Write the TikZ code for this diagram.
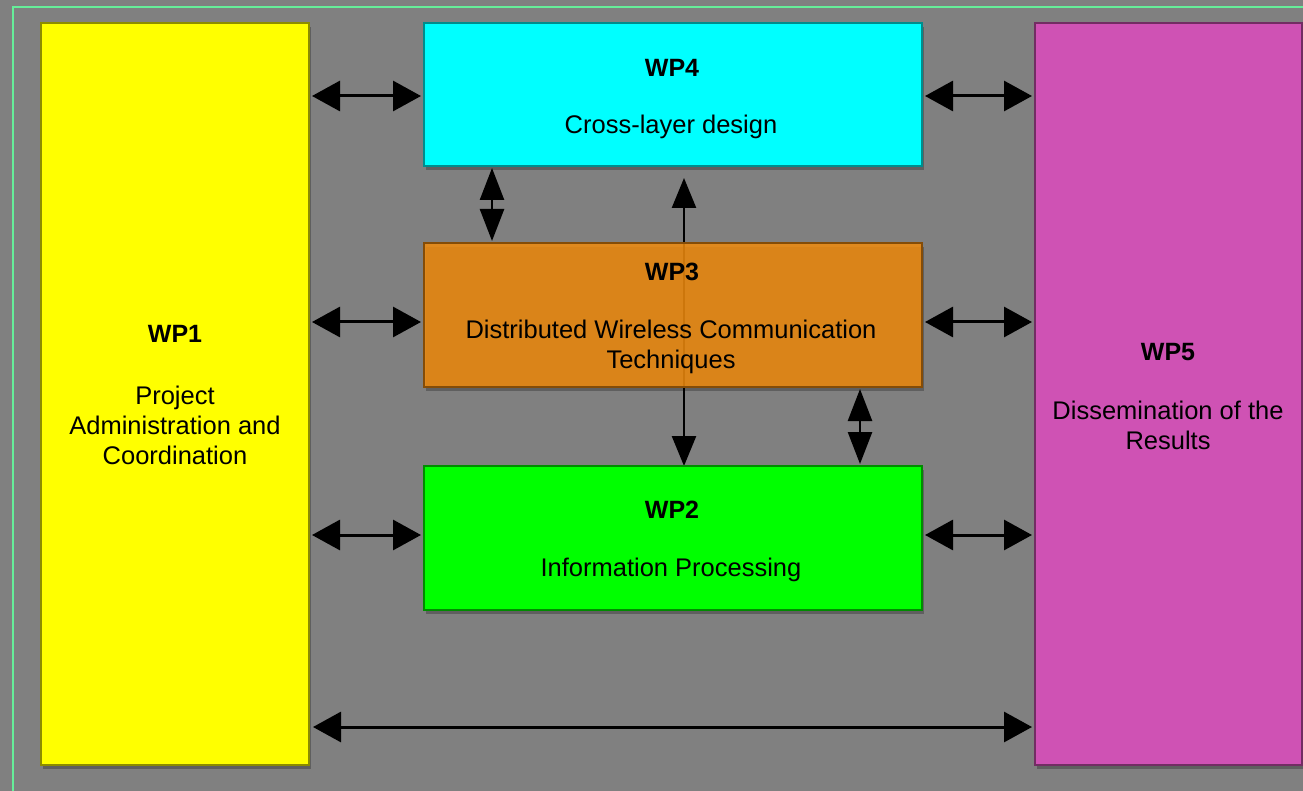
\documentclass[tikz,border=0pt]{standalone}
\usepackage{fontspec}
\setmainfont{Liberation Sans}
\usetikzlibrary{arrows.meta,shadows}
\definecolor{bggray}{HTML}{808080}
\definecolor{frameline}{HTML}{66EE99}
\definecolor{wpyellow}{HTML}{FFFF00}
\definecolor{wpcyan}{HTML}{00FFFF}
\definecolor{wporange}{HTML}{F08B0D}
\definecolor{wpgreen}{HTML}{00FF00}
\definecolor{wpmagenta}{HTML}{CF52B4}
\tikzset{
  wpbox/.style={draw=#1!55!black, fill=#1, line width=1.5pt, inner sep=0pt, outer sep=0pt, anchor=north west,
    drop shadow={shadow xshift=2pt, shadow yshift=-4pt, fill=black, opacity=0.25}},
  wptext/.style={font=\fontsize{25.5}{30}\selectfont, align=center, text=black},
  wptitle/.style={font=\fontsize{25}{30}\selectfont\bfseries, text=black},
  harr/.style={line width=3pt, {Triangle[length=28pt,width=30pt]}-{Triangle[length=28pt,width=30pt]}, shorten <=3pt, shorten >=3pt},
  varr/.style={line width=2.5pt, {Triangle[length=32pt,width=24pt]}-{Triangle[length=32pt,width=24pt]}, shorten <=2pt, shorten >=2pt},
}
\begin{document}
\begin{tikzpicture}[x=1pt,y=-1pt]
\fill[bggray] (0,0) rectangle (1303,791);
\useasboundingbox (0,0) rectangle (1303,791);
\draw[frameline, line width=2pt] (13,791) -- (13,7) -- (1303,7);

% line WP2 <-> WP4 behind WP3
\coordinate (vtop) at (684,178);
\coordinate (vbot) at (684,466);
\draw[line width=2.5pt, {Triangle[length=30pt,width=24pt]}-{Triangle[length=30pt,width=24pt]}] (vtop) -- (vbot);

\node[wpbox=wpyellow, minimum width=268pt, minimum height=742pt] (wp1) at (41,23) {};
\node[wpbox=wpcyan, minimum width=498pt, minimum height=143pt] (wp4) at (424,23) {};
\node[wpbox=wporange, fill opacity=0.85, minimum width=498pt, minimum height=144pt] (wp3) at (424,243) {};
\node[wpbox=wpgreen, minimum width=498pt, minimum height=144pt] (wp2) at (424,466) {};
\node[wpbox=wpmagenta, minimum width=267pt, minimum height=742pt] (wp5) at (1035,23) {};

% texts
\node[wptitle] (t1) at (175,334) {WP1};
\node[wptext] (d1) at (175,425) {Project\\Administration and\\Coordination};
\node[wptitle] (t4) at (672,68) {WP4};
\node[wptext] (d4) at (671,127) {Cross-layer design};
\node[wptitle] (t3) at (672,272) {WP3};
\node[wptext] (d3) at (671,347) {Distributed Wireless Communication\\Techniques};
\node[wptitle] (t2) at (672,510) {WP2};
\node[wptext] (d2) at (671,570) {Information Processing};
\node[wptitle] (t5) at (1168,352) {WP5};
\node[wptext] (d5) at (1168,425) {Dissemination of the\\Results};

% horizontal arrows
\draw[harr] (wp1.east |- 0,96) -- (wp4.west |- 0,96);
\draw[harr] (wp4.east |- 0,96) -- (wp5.west |- 0,96);
\draw[harr] (wp1.east |- 0,322) -- (wp3.west |- 0,322);
\draw[harr] (wp3.east |- 0,322) -- (wp5.west |- 0,322);
\draw[harr] (wp1.east |- 0,535) -- (wp2.west |- 0,535);
\draw[harr] (wp2.east |- 0,535) -- (wp5.west |- 0,535);
\draw[harr, shorten <=4pt] (wp1.east |- 0,727) -- (wp5.west |- 0,727);

% vertical arrows
\draw[varr] (wp4.south -| 492,0) -- (wp3.north -| 492,0);
\draw[varr] (wp3.south -| 860,0) -- (wp2.north -| 860,0);
\end{tikzpicture}
\end{document}
